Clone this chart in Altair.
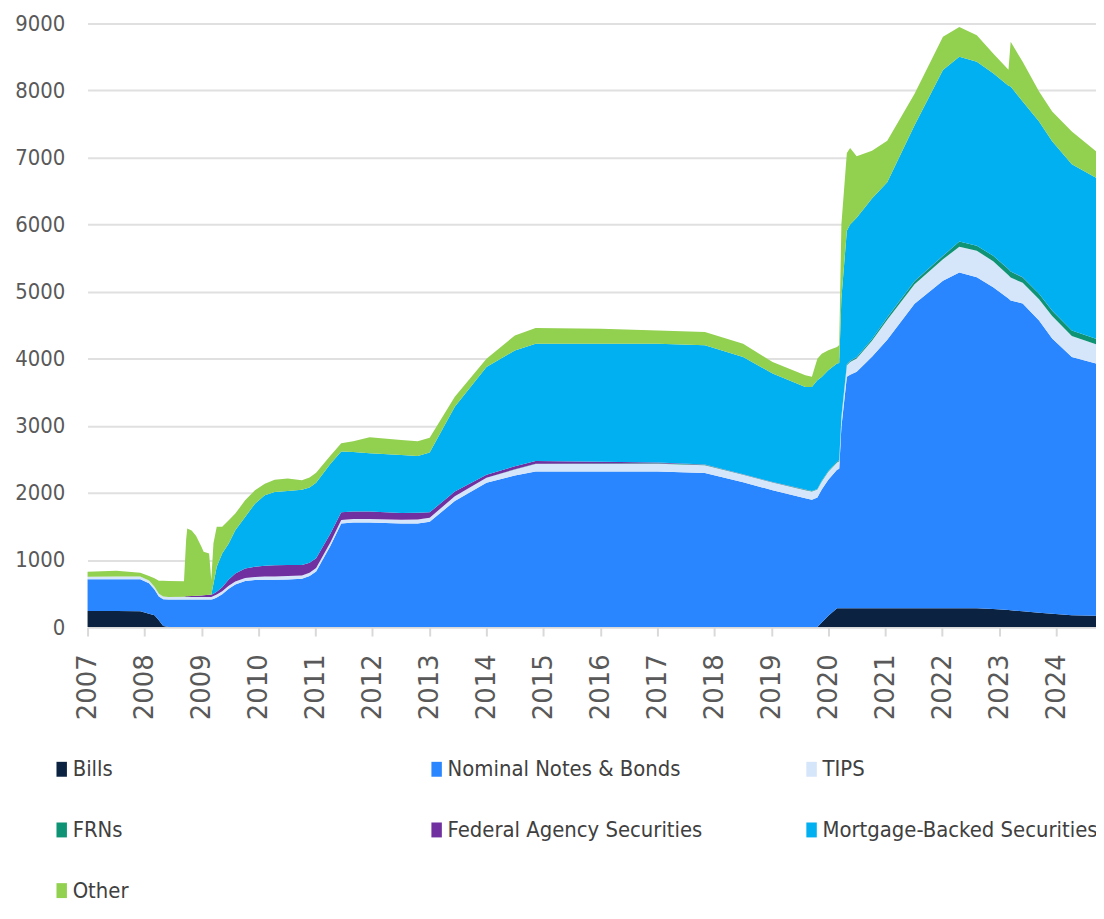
import altair as alt
import pandas as pd

# Dates of the readings (weekly Fed balance-sheet style series)
dates = [
    "2007-01-01", "2007-07-04", "2007-12-05", "2008-01-30", "2008-03-05", "2008-04-02",
    "2008-04-30", "2008-06-04", "2008-09-10", "2008-09-24", "2008-10-01", "2008-10-29",
    "2008-11-26", "2008-12-31", "2009-01-14", "2009-02-18", "2009-03-04", "2009-03-18",
    "2009-04-08", "2009-05-13", "2009-06-24", "2009-08-05", "2009-10-07", "2009-12-09",
    "2010-02-10", "2010-04-14", "2010-07-07", "2010-10-06", "2010-11-24", "2011-01-05",
    "2011-04-06", "2011-06-15", "2011-08-31", "2011-12-14", "2012-07-04", "2012-10-17",
    "2013-01-02", "2013-06-12", "2014-01-01", "2014-07-02", "2014-11-12", "2016-01-06",
    "2017-01-04", "2017-11-01", "2018-07-04", "2019-01-09", "2019-08-07", "2019-09-18",
    "2019-10-23", "2019-11-20", "2020-01-01", "2020-02-26", "2020-03-11", "2020-03-25",
    "2020-04-29", "2020-05-20", "2020-07-01", "2020-10-07", "2021-01-13", "2021-07-07",
    "2022-01-05", "2022-04-20", "2022-08-10", "2022-11-23", "2023-03-01", "2023-03-15",
    "2023-05-31", "2023-09-13", "2023-12-06", "2024-04-10", "2024-09-12",
]

bills = [
    240, 240, 235, 200, 175, 100,
    15, 0, 0, 0, 0, 0,
    0, 0, 0, 0, 0, 0,
    0, 0, 0, 0, 0, 0,
    0, 0, 0, 0, 0, 0,
    0, 0, 0, 0, 0, 0,
    0, 0, 0, 0, 0, 0,
    0, 0, 0, 0, 0, 0,
    0, 70, 168, 280, 282, 282,
    282, 282, 282, 282, 282, 282,
    282, 282, 280, 270, 255, 250,
    235, 215, 200, 175, 170,
]

nominal = [
    472, 472, 477, 453, 385, 355,
    400, 410, 410, 410, 410, 410,
    410, 410, 410, 410, 410, 420,
    440, 490, 570, 635, 685, 700,
    705, 705, 710, 720, 760, 830,
    1210, 1545, 1560, 1560, 1545, 1545,
    1570, 1880, 2150, 2260, 2320, 2320,
    2320, 2296, 2160, 2040, 1920, 1900,
    1930, 1980, 2028, 2065, 2080, 2700,
    3450, 3480, 3524, 3747, 4000, 4540,
    4882, 5006, 4934, 4795, 4645, 4620,
    4588, 4356, 4104, 3851, 3758,
]

tips = [
    40, 42, 42, 42, 42, 42,
    42, 40, 40, 40, 40, 40,
    40, 40, 40, 40, 40, 42,
    45, 45, 45, 45, 48, 48,
    48, 50, 50, 50, 50, 52,
    52, 50, 50, 52, 55, 60,
    60, 70, 75, 90, 110, 110,
    115, 115, 110, 115, 120, 120,
    120, 120, 120, 110, 110, 140,
    170, 190, 198, 240, 300, 290,
    320, 381, 396, 390, 345, 340,
    310, 318, 333, 314, 290,
]

frns = [
    0, 0, 0, 0, 0, 0,
    0, 0, 0, 0, 0, 0,
    0, 0, 0, 0, 0, 0,
    0, 0, 0, 0, 0, 0,
    0, 0, 0, 0, 0, 0,
    0, 0, 0, 0, 0, 0,
    0, 0, 0, 3, 5, 8,
    8, 8, 5, 5, 8, 8,
    8, 10, 10, 12, 12, 12,
    15, 15, 20, 25, 35, 45,
    50, 79, 74, 80, 90, 90,
    80, 80, 80, 80, 79,
]

agency = [
    0, 0, 0, 0, 0, 0,
    0, 0, 3, 8, 10, 15,
    18, 20, 25, 30, 32, 35,
    40, 60, 95, 120, 140, 150,
    160, 168, 165, 155, 150, 145,
    130, 115, 112, 112, 102, 100,
    80, 73, 45, 45, 42, 28,
    12, 4, 2, 2, 2, 2,
    2, 2, 2, 2, 2, 2,
    2, 2, 2, 2, 2, 2,
    2, 2, 2, 2, 2, 2,
    2, 2, 2, 2, 2,
]

mbs = [
    0, 0, 0, 0, 0, 0,
    0, 0, 0, 0, 0, 0,
    0, 0, 0, 0, 0, 150,
    375, 503, 537, 644, 769, 942,
    1051, 1090, 1105, 1123, 1120, 1123,
    1038, 907, 888, 868, 865, 845,
    891, 1262, 1608, 1727, 1748, 1759,
    1770, 1777, 1750, 1617, 1531, 1551,
    1620, 1548, 1500, 1459, 1450, 1764,
    1990, 2031, 2078, 2094, 2011, 2321,
    2769, 2753, 2743, 2719, 2733, 2756,
    2620, 2568, 2523, 2478, 2398,
]

other = [
    74, 86, 55, 67, 125, 195,
    235, 235, 230, 850, 1009, 975,
    892, 727, 648, 618, 218, 603,
    594, 396, 346, 248, 248, 198,
    173, 183, 185, 142, 150, 150,
    125, 123, 160, 238, 223, 222,
    220, 150, 124, 223, 235, 222,
    198, 198, 198, 173, 174, 150,
    322, 346, 298, 247, 270, 1100,
    1160, 1143, 915, 710, 620, 470,
    495, 445, 396, 297, 240, 668,
    594, 445, 445, 490, 397,
]

series_names = [
    "Bills", "Nominal Notes & Bonds", "TIPS", "FRNs",
    "Federal Agency Securities", "Mortgage-Backed Securities", "Other",
]
series_values = [bills, nominal, tips, frns, agency, mbs, other]
colors = ["#0B2341", "#2986FF", "#D5E5FA", "#0E9474", "#7030A0", "#00B0F0", "#92D050"]

rows = []
for k, (name, vals) in enumerate(zip(series_names, series_values)):
    for d, v in zip(dates, vals):
        rows.append({"date": d, "series": name, "value": v, "order": k})
df = pd.DataFrame(rows)

NARROW = "DejaVu Sans Condensed, sans-serif"

year_ticks = [alt.DateTime(year=y, month=1, date=1, utc=True) for y in range(2007, 2025)]

chart = (
    alt.Chart(df)
    .mark_area(interpolate="linear", opacity=1)
    .encode(
        x=alt.X(
            "date:T",
            scale=alt.Scale(
                type="utc",
                domain=[
                    alt.DateTime(year=2007, month=1, date=1, utc=True),
                    alt.DateTime(year=2024, month=9, date=12, utc=True),
                ],
            ),
            axis=alt.Axis(
                values=year_ticks,
                format="%Y",
                labelAngle=270,
                labelFont="DejaVu Sans",
                labelFontSize=26,
                labelColor="#595959",
                labelPadding=18,
                labelFlush=False,
                labelOverlap=False,
                domain=True,
                domainColor="#D9D9D9",
                domainWidth=2,
                ticks=True,
                tickColor="#D9D9D9",
                tickWidth=2,
                tickSize=9,
                grid=False,
                title=None,
            ),
        ),
        y=alt.Y(
            "value:Q",
            stack="zero",
            scale=alt.Scale(domain=[0, 9000], nice=False),
            axis=alt.Axis(
                values=list(range(0, 9001, 1000)),
                format="d",
                labelFont=NARROW,
                labelFontSize=22,
                labelColor="#595959",
                labelPadding=23,
                ticks=False,
                domain=False,
                grid=True,
                gridColor="#E0E0E0",
                gridWidth=2,
                title=None,
            ),
        ),
        color=alt.Color(
            "series:N",
            scale=alt.Scale(domain=series_names, range=colors),
            legend=alt.Legend(
                orient="none",
                legendX=-37,
                legendY=739,
                direction="horizontal",
                columns=3,
                title=None,
                symbolType="M-0.7,-1H0.7V1H-0.7Z",
                symbolSize=225,
                symbolStrokeWidth=0,
                symbolOpacity=1,
                labelFont=NARROW,
                labelFontSize=22,
                labelColor="#404040",
                labelOffset=0,
                labelLimit=500,
                rowPadding=39,
                columnPadding=78,
                gridAlign="all",
                padding=0,
            ),
        ),
        order=alt.Order("order:Q", sort="ascending"),
    )
    .properties(
        width=1014,
        height=607,
        autosize=alt.AutoSizeParams(type="none"),
        padding={"left": 80, "top": 13, "right": 0, "bottom": 281},
    )
    .configure_view(stroke=None)
)

chart.save("out.html", embed_options={"renderer": "svg", "actions": False})
